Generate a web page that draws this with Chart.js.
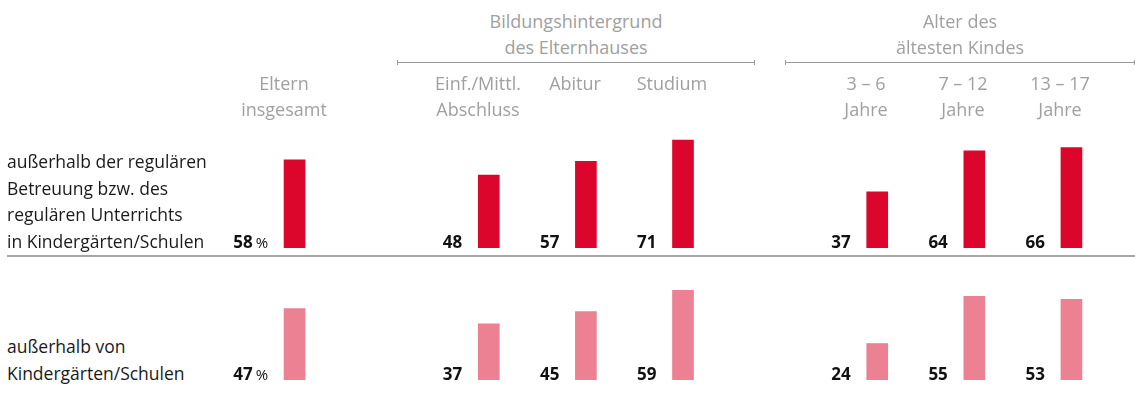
<!DOCTYPE html>
<html lang="de">
<head>
<meta charset="utf-8">
<script src="https://cdn.jsdelivr.net/npm/chart.js@4"></script>
<style>
  html, body { margin: 0; padding: 0; background: #fff; }
  #wrap { position: relative; width: 1135px; height: 401px; overflow: hidden; font-family: "Open Sans", sans-serif; -webkit-font-smoothing: antialiased; }
  canvas { position: absolute; }
  .head { position: absolute; width: 160px; text-align: center; color: #a0a0a0; font-size: 18px; line-height: 26px; white-space: pre; }
  .group { position: absolute; text-align: center; color: #a0a0a0; font-size: 18px; line-height: 26px; white-space: pre; }
  .gline { position: absolute; height: 5px; border-left: 1px solid #999; border-right: 1px solid #999; box-sizing: border-box; }
  .gline::after { content: ""; position: absolute; left: 0; right: 0; top: 2px; border-top: 1px solid #999; }
  .rowlabel { position: absolute; left: 7px; color: #1a1a1a; font-size: 17.5px; line-height: 26.5px; white-space: pre; }
  .sep { position: absolute; left: 7px; right: 0; top: 255px; height: 2px; background: #a6a6a6; }
</style>
</head>
<body>
<div id="wrap">
  <canvas id="rowOne" width="920" height="152" style="left:200px; top:96px;"></canvas>
  <canvas id="rowTwo" width="920" height="152" style="left:200px; top:228px;"></canvas>
  <div class="sep"></div>
</div>
<script>
const categories = ["Eltern\ninsgesamt", "Einf./Mittl.\nAbschluss", "Abitur", "Studium", "3 – 6\nJahre", "7 – 12\nJahre", "13 – 17\nJahre"];
const groupTitles = ["", "Bildungshintergrund\ndes Elternhauses", "Alter des\nältesten Kindes"];
const groupSizes = [1, 3, 3];
const rowLabels = ["außerhalb der regulären\nBetreuung bzw. des\nregulären Unterrichts\nin Kindergärten/Schulen", "außerhalb von\nKindergärten/Schulen"];
const valuesRegular = [58, 48, 57, 71, 37, 64, 66];
const valuesInstitutions = [47, 37, 45, 59, 24, 55, 53];
const rowColors = ["#dc062d", "#ec8194"];

// slot layout: an empty slot between groups
const slots = [];
let k = 0;
groupSizes.forEach((size, g) => {
  if (g > 0) slots.push(null);
  for (let i = 0; i < size; i++) slots.push(k++);
});

function slotData(values) {
  return slots.map((idx) => (idx === null ? null : values[idx]));
}

const valueLabels = {
  id: "valueLabels",
  afterDatasetsDraw(chart) {
    const ctx = chart.ctx;
    const meta = chart.getDatasetMeta(0);
    ctx.save();
    ctx.fillStyle = "#111";
    ctx.textBaseline = "alphabetic";
    ctx.textAlign = "right";
    meta.data.forEach((bar, i) => {
      const v = chart.data.datasets[0].data[i];
      if (v === null) return;
      let x = bar.x - bar.width / 2 - 16;
      const y = bar.base;
      if (slots[i] === 0) {
        ctx.font = "15px 'Open Sans', sans-serif";
        ctx.fillText("%", x, y);
        x -= ctx.measureText("%").width + 3;
      }
      ctx.font = "bold 17px 'Open Sans', sans-serif";
      ctx.fillText(String(v), x, y);
    });
    ctx.restore();
  },
};

function makeRow(id, values, color) {
  return new Chart(document.getElementById(id), {
    type: "bar",
    data: {
      labels: slots.map((s, i) => String(i)),
      datasets: [
        {
          data: slotData(values),
          backgroundColor: color,
          barThickness: 21,
        },
      ],
    },
    options: {
      responsive: false,
      animation: false,
      devicePixelRatio: 1,
      layout: { padding: { left: 46, right: 0, top: 0, bottom: 0 } },
      plugins: { legend: { display: false }, tooltip: { enabled: false } },
      scales: {
        x: { display: false, offset: true },
        y: { display: false, min: 0, max: 100 },
      },
    },
    plugins: [valueLabels],
  });
}

const chartOne = makeRow("rowOne", valuesRegular, rowColors[0]);
const chartTwo = makeRow("rowTwo", valuesInstitutions, rowColors[1]);

// headers placed from the chart's own x scale
const wrap = document.getElementById("wrap");
const xScale = chartOne.scales.x;
const offsetLeft = 200;
function centerOf(slotIndex) {
  return Math.round(offsetLeft + xScale.getPixelForValue(slotIndex));
}

slots.forEach((idx, i) => {
  if (idx === null) return;
  const div = document.createElement("div");
  div.className = "head";
  div.textContent = categories[idx];
  div.style.left = centerOf(i) - 11 - 80 + "px";
  div.style.top = "70px";
  wrap.appendChild(div);
});

let start = 0;
groupSizes.forEach((size, g) => {
  const first = slots.indexOf(start);
  const last = slots.indexOf(start + size - 1);
  start += size;
  if (!groupTitles[g]) return;
  const left = centerOf(first) - 92;
  const right = Math.min(centerOf(last) + 72, 1135);
  const line = document.createElement("div");
  line.className = "gline";
  line.style.left = left + "px";
  line.style.width = right - left + "px";
  line.style.top = "60px";
  wrap.appendChild(line);
  const title = document.createElement("div");
  title.className = "group";
  title.textContent = groupTitles[g];
  title.style.left = left + "px";
  title.style.width = right - left + "px";
  title.style.top = "8px";
  wrap.appendChild(title);
});

rowLabels.forEach((text, r) => {
  const div = document.createElement("div");
  div.className = "rowlabel";
  div.textContent = text;
  const lines = text.split("\n").length;
  const baseline = r === 0 ? 248 : 380;
  div.style.top = baseline - 26.5 * lines + 6 + "px";
  wrap.appendChild(div);
});
</script>
</body>
</html>
